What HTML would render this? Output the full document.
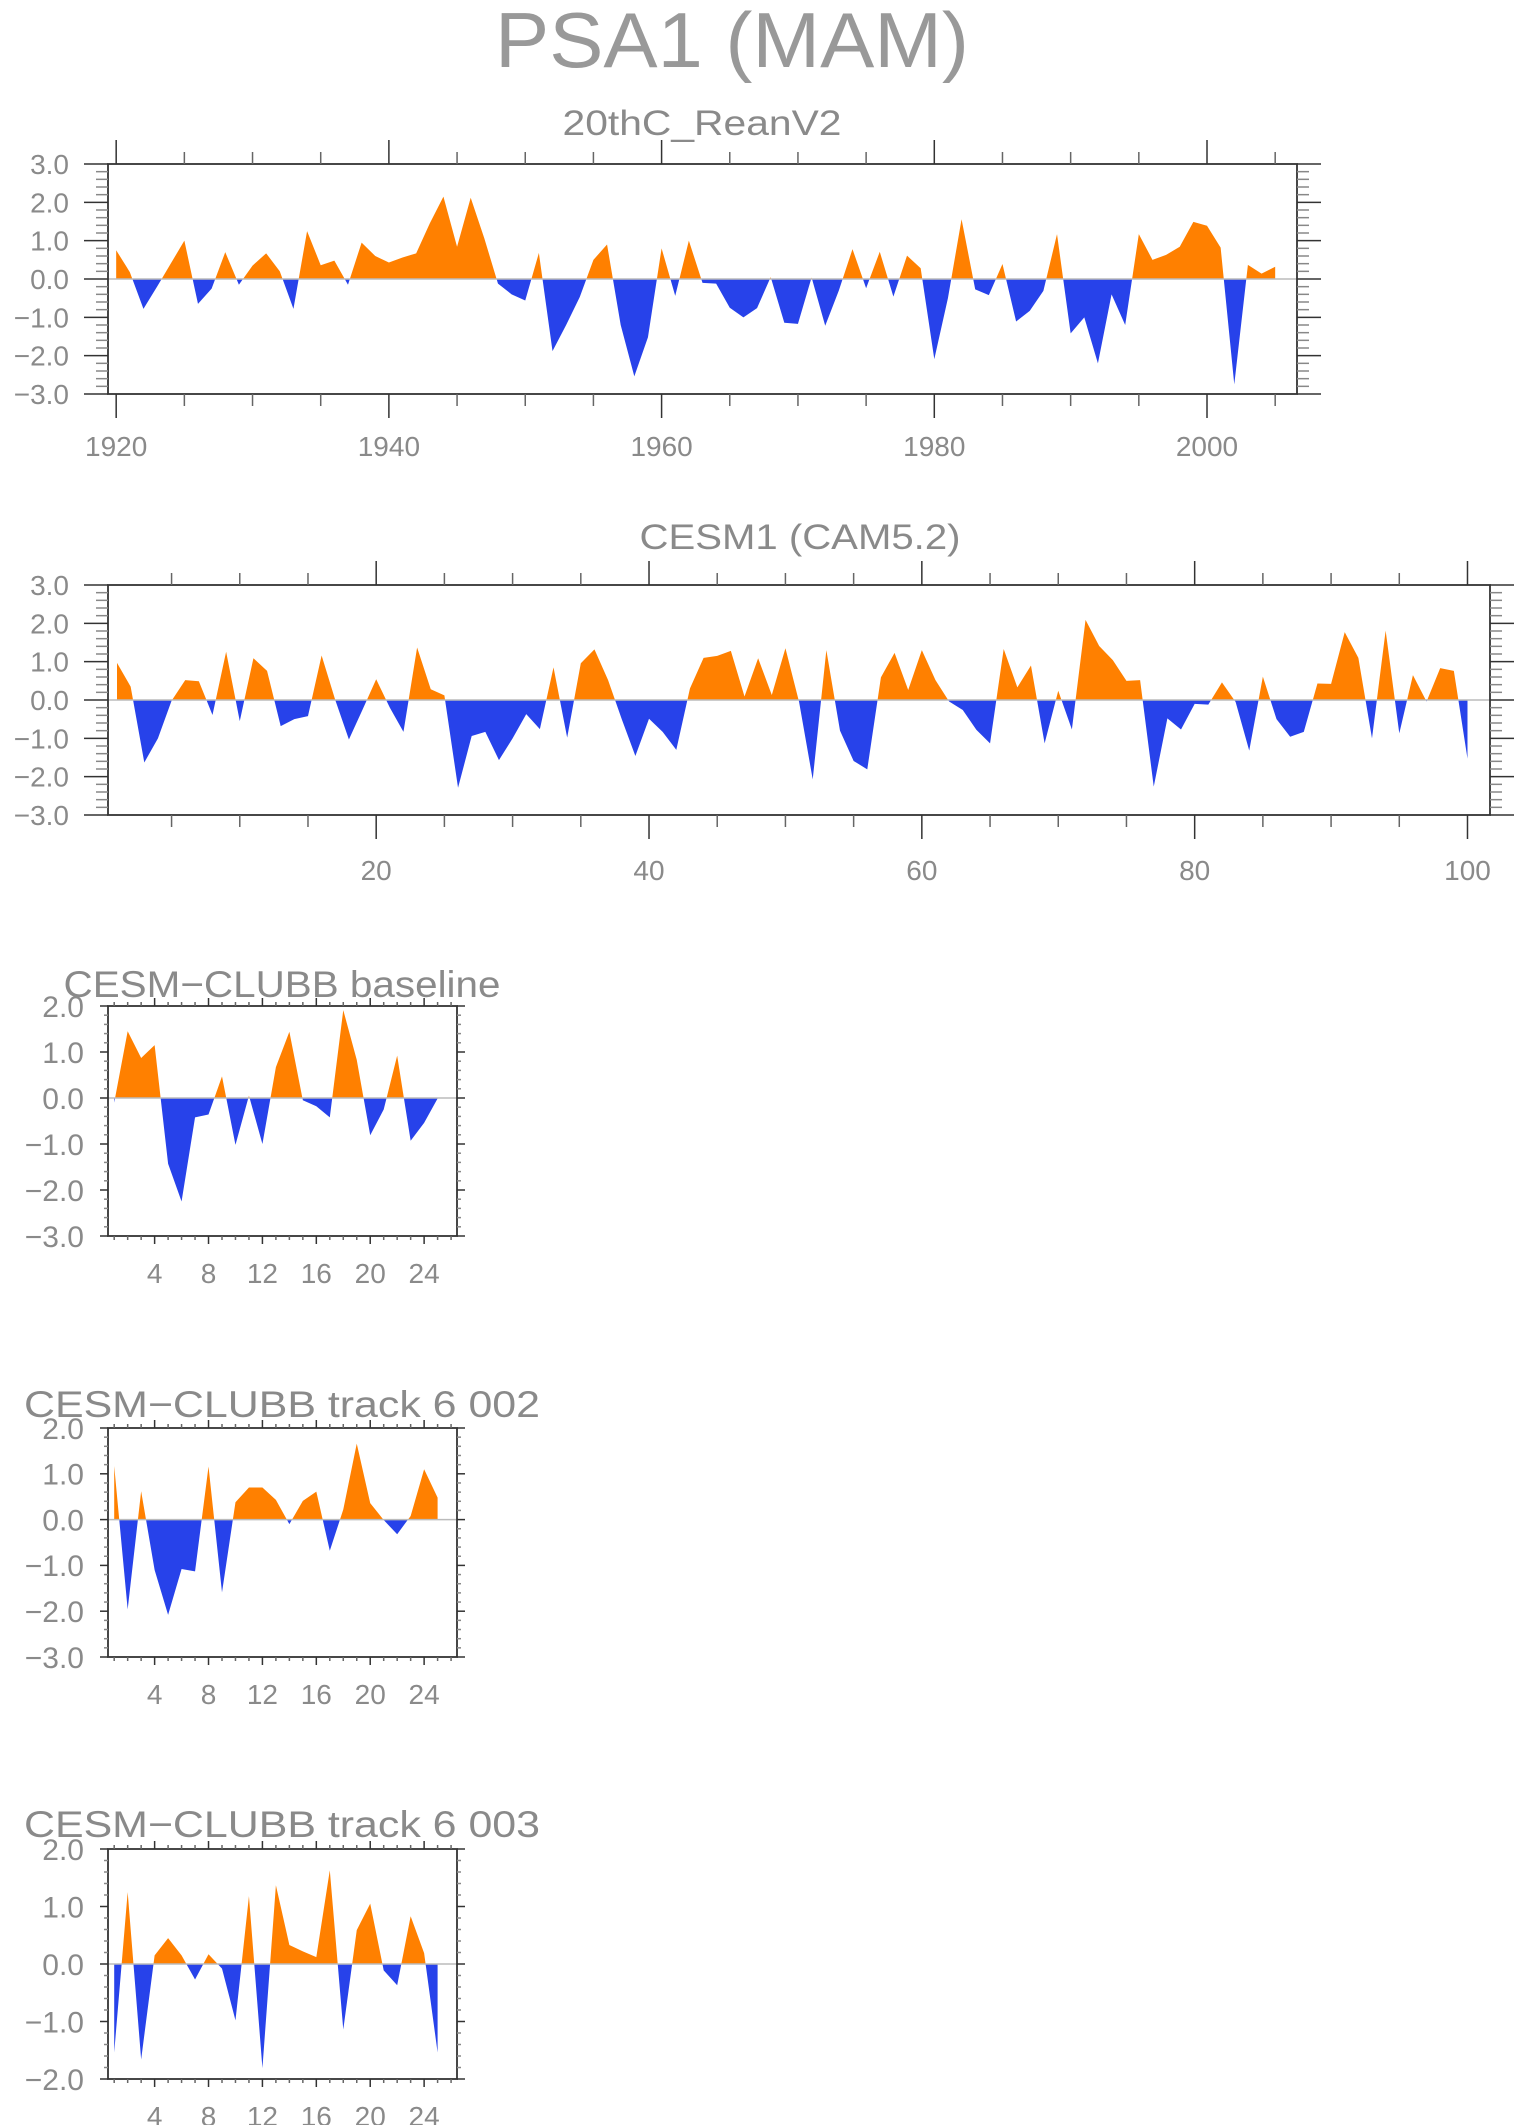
<!DOCTYPE html>
<html><head><meta charset="utf-8"><style>
html,body{margin:0;padding:0;background:#fff;}
svg{display:block;}
text{font-family:"Liberation Sans",sans-serif;fill:#8a8a8a;}
</style></head>
<body>
<svg id="fig" xmlns="http://www.w3.org/2000/svg" width="1519" height="2125" viewBox="0 0 1519 2125">
<text x="732" y="67" font-size="78" text-anchor="middle" textLength="474" lengthAdjust="spacingAndGlyphs" style="fill:#999">PSA1 (MAM)</text>
</svg>
<script>
// ---- data ----
const years20c = [];
for (let y = 1920; y <= 2005; y++) years20c.push(y);
const psa20c = [0.75,0.18,-0.78,-0.2,0.4,1.0,-0.65,-0.25,0.7,-0.15,0.35,0.67,0.2,-0.78,1.25,0.36,0.48,-0.15,0.95,0.6,
0.43,0.56,0.67,1.45,2.15,0.84,2.12,1.06,-0.12,-0.4,-0.56,0.68,-1.88,-1.2,-0.47,0.5,0.9,-1.2,-2.54,-1.52,
0.8,-0.44,1.0,-0.1,-0.12,-0.75,-1.0,-0.76,0.05,-1.14,-1.17,0.04,-1.22,-0.3,0.78,-0.24,0.71,-0.46,0.61,0.28,
-2.09,-0.5,1.56,-0.27,-0.42,0.39,-1.11,-0.83,-0.31,1.17,-1.42,-1.0,-2.2,-0.4,-1.2,1.17,0.5,0.63,0.84,1.49,
1.39,0.82,-2.75,0.37,0.14,0.32];
const idx100 = [];
for (let i = 1; i <= 100; i++) idx100.push(i);
const cesm1 = [0.97,0.35,-1.63,-1.0,-0.02,0.52,0.49,-0.39,1.26,-0.55,1.09,0.76,-0.68,-0.5,-0.42,1.16,0.0,-1.03,-0.25,0.54,
-0.2,-0.83,1.37,0.28,0.12,-2.29,-0.94,-0.83,-1.57,-1.0,-0.37,-0.76,0.85,-0.98,0.96,1.32,0.52,-0.5,-1.46,-0.49,
-0.83,-1.3,0.3,1.1,1.15,1.28,0.09,1.09,0.13,1.35,-0.05,-2.07,1.3,-0.8,-1.59,-1.81,0.59,1.23,0.26,1.3,
0.52,-0.04,-0.26,-0.78,-1.13,1.33,0.33,0.9,-1.13,0.24,-0.77,2.09,1.41,1.04,0.5,0.52,-2.26,-0.48,-0.77,-0.1,
-0.12,0.46,-0.05,-1.32,0.61,-0.5,-0.96,-0.83,0.43,0.42,1.77,1.1,-1.0,1.81,-0.87,0.65,-0.04,0.83,0.76,-1.53];
const idx25 = [];
for (let i = 1; i <= 25; i++) idx25.push(i);
const baseline = [-0.1,1.45,0.87,1.15,-1.43,-2.25,-0.42,-0.36,0.47,-1.02,0.05,-1.0,0.67,1.44,-0.05,-0.18,-0.42,1.91,0.83,-0.81,-0.25,0.92,-0.93,-0.54,-0.01];
const track002 = [1.17,-1.96,0.62,-1.1,-2.08,-1.08,-1.13,1.16,-1.59,0.38,0.7,0.7,0.43,-0.1,0.41,0.61,-0.68,0.22,1.66,0.36,-0.01,-0.32,0.08,1.1,0.48];
const track003 = [-1.54,1.25,-1.66,0.15,0.45,0.15,-0.27,0.17,-0.08,-0.98,1.18,-1.81,1.37,0.33,0.22,0.12,1.63,-1.14,0.59,1.05,-0.11,-0.37,0.83,0.19,-1.54];
const xLabels20c = [1920,1940,1960,1980,2000];
const xLabels100 = [20,40,60,80,100];
const xLabels25 = [4,8,12,16,20,24];
const yLabels6 = [3,2,1,0,-1,-2,-3];
const yLabelsSmall5 = [2,1,0,-1,-2,-3];
const yLabelsSmall4 = [2,1,0,-1,-2];

const NS = "http://www.w3.org/2000/svg";
const svg = document.getElementById('fig');
function mk(tag, parent, name, attrs) {
  const el = document.createElementNS(NS, tag);
  for (const k in attrs) el.setAttribute(k, attrs[k]);
  
  
  parent.appendChild(el);
  return el;
}
function fmt(v) { return (v < 0 ? "\u2212" : "") + Math.abs(v).toFixed(1); }

function panel(c) {
  const g = mk('g', svg, c.id + '-panel', {});
  const sx = v => c.left + (v - c.xmin) / (c.xmax - c.xmin) * (c.right - c.left);
  const sy = v => c.top + (c.ymax - v) / (c.ymax - c.ymin) * (c.bottom - c.top);
  const y0 = sy(0);
  const t = mk('text', g, c.id + '-title', {x: c.titleX, y: c.titleY, 'font-size': c.titleSize, 'text-anchor': 'middle', textLength: c.titleW, lengthAdjust: 'spacingAndGlyphs'});
  t.textContent = c.title;
  const defs = mk('defs', g, c.id + '-defs', {});
  const cpA = mk('clipPath', defs, c.id + '-clip-above', {id: c.id + 'A'});
  mk('rect', cpA, c.id + '-clip-above-rect', {x: c.left, y: c.top - 5, width: c.right - c.left, height: y0 - c.top + 5});
  const cpB = mk('clipPath', defs, c.id + '-clip-below', {id: c.id + 'B'});
  mk('rect', cpB, c.id + '-clip-below-rect', {x: c.left, y: y0, width: c.right - c.left, height: c.bottom - y0 + 5});
  let d = 'M' + sx(c.xs[0]).toFixed(2) + ',' + y0.toFixed(2);
  for (let i = 0; i < c.xs.length; i++) d += 'L' + sx(c.xs[i]).toFixed(2) + ',' + sy(c.ys[i]).toFixed(2);
  d += 'L' + sx(c.xs[c.xs.length - 1]).toFixed(2) + ',' + y0.toFixed(2) + 'Z';
  mk('path', g, c.id + '-positive-area', {d: d, fill: '#ff8000', 'clip-path': 'url(#' + c.id + 'A)'});
  mk('path', g, c.id + '-negative-area', {d: d, fill: '#2742ea', 'clip-path': 'url(#' + c.id + 'B)'});
  mk('line', g, c.id + '-zero-line', {x1: c.left, x2: c.right, y1: y0, y2: y0, stroke: '#bbbbbb', 'stroke-width': 1.5});
  mk('rect', g, c.id + '-plot-frame', {x: c.left, y: c.top, width: c.right - c.left, height: c.bottom - c.top, fill: 'none', stroke: '#333', 'stroke-width': 1.8});
  for (let v = c.xTickStart; v <= c.xmax + 1e-6; v += c.xMinor) {
    const major = Math.abs((v - c.xMajorStart) / c.xMajor - Math.round((v - c.xMajorStart) / c.xMajor)) < 1e-6;
    const L = major ? c.tMaj : c.tMin;
    const x = sx(v);
    mk('line', g, c.id + '-x-tick-top', {x1: x, x2: x, y1: c.top, y2: c.top - L, stroke: major ? '#333' : '#666', 'stroke-width': 1.5});
    mk('line', g, c.id + '-x-tick-bottom', {x1: x, x2: x, y1: c.bottom, y2: c.bottom + L, stroke: major ? '#333' : '#666', 'stroke-width': 1.5});
  }
  for (const v of c.xLabels) {
    const tx = mk('text', g, c.id + '-x-tick-label', {x: sx(v), y: c.bottom + c.xLabOff, 'font-size': c.xLabSize, 'text-anchor': 'middle'});
    tx.textContent = String(v);
  }
  const n = Math.round((c.ymax - c.ymin) / 0.2);
  for (let k = 0; k <= n; k++) {
    const v = c.ymin + k * 0.2;
    const major = k % 5 === 0;
    const L = major ? c.tMaj : c.tMin;
    const y = sy(v);
    mk('line', g, c.id + '-y-tick-left', {x1: c.left, x2: c.left - L, y1: y, y2: y, stroke: major ? '#333' : '#888', 'stroke-width': 1.5});
    mk('line', g, c.id + '-y-tick-right', {x1: c.right, x2: c.right + L, y1: y, y2: y, stroke: major ? '#333' : '#888', 'stroke-width': 1.5});
  }
  for (const v of c.yLabels) {
    const ty = mk('text', g, c.id + '-y-tick-label', {x: c.yLabX, y: sy(v) + c.yLabSize * 0.36, 'font-size': c.yLabSize, 'text-anchor': 'end'});
    ty.textContent = fmt(v);
  }
}

panel({id: 'reanv2', title: '20thC_ReanV2', titleX: 702, titleY: 135, titleSize: 35, titleW: 279,
  left: 108, right: 1297, top: 164, bottom: 394, xmin: 1919.4, xmax: 2006.6, ymin: -3, ymax: 3,
  xs: years20c, ys: psa20c, xTickStart: 1920, xMinor: 5, xMajor: 20, xMajorStart: 1920, tMaj: 24, tMin: 12,
  xLabels: xLabels20c, xLabOff: 62, xLabSize: 28, yLabels: yLabels6, yLabX: 69, yLabSize: 28});
panel({id: 'cesm1', title: 'CESM1 (CAM5.2)', titleX: 800, titleY: 549, titleSize: 35, titleW: 321,
  left: 108, right: 1490, top: 585, bottom: 815, xmin: 0.34, xmax: 101.65, ymin: -3, ymax: 3,
  xs: idx100, ys: cesm1, xTickStart: 5, xMinor: 5, xMajor: 20, xMajorStart: 20, tMaj: 24, tMin: 12,
  xLabels: xLabels100, xLabOff: 65, xLabSize: 28, yLabels: yLabels6, yLabX: 69, yLabSize: 28});
panel({id: 'baseline', title: 'CESM\u2212CLUBB baseline', titleX: 282, titleY: 997, titleSize: 37, titleW: 437,
  left: 108, right: 457, top: 1006, bottom: 1236, xmin: 0.54, xmax: 26.44, ymin: -3, ymax: 2,
  xs: idx25, ys: baseline, xTickStart: 1, xMinor: 1, xMajor: 4, xMajorStart: 4, tMaj: 8, tMin: 4,
  xLabels: xLabels25, xLabOff: 47, xLabSize: 28, yLabels: yLabelsSmall5, yLabX: 84, yLabSize: 30});
panel({id: 'track002', title: 'CESM\u2212CLUBB track 6 002', titleX: 282, titleY: 1417, titleSize: 37, titleW: 516,
  left: 108, right: 457, top: 1428, bottom: 1657, xmin: 0.54, xmax: 26.44, ymin: -3, ymax: 2,
  xs: idx25, ys: track002, xTickStart: 1, xMinor: 1, xMajor: 4, xMajorStart: 4, tMaj: 8, tMin: 4,
  xLabels: xLabels25, xLabOff: 47, xLabSize: 28, yLabels: yLabelsSmall5, yLabX: 84, yLabSize: 30});
panel({id: 'track003', title: 'CESM\u2212CLUBB track 6 003', titleX: 282, titleY: 1837, titleSize: 37, titleW: 516,
  left: 108, right: 457, top: 1849, bottom: 2079, xmin: 0.54, xmax: 26.44, ymin: -2, ymax: 2,
  xs: idx25, ys: track003, xTickStart: 1, xMinor: 1, xMajor: 4, xMajorStart: 4, tMaj: 8, tMin: 4,
  xLabels: xLabels25, xLabOff: 47, xLabSize: 28, yLabels: yLabelsSmall4, yLabX: 84, yLabSize: 30});
</script>
</body></html>
